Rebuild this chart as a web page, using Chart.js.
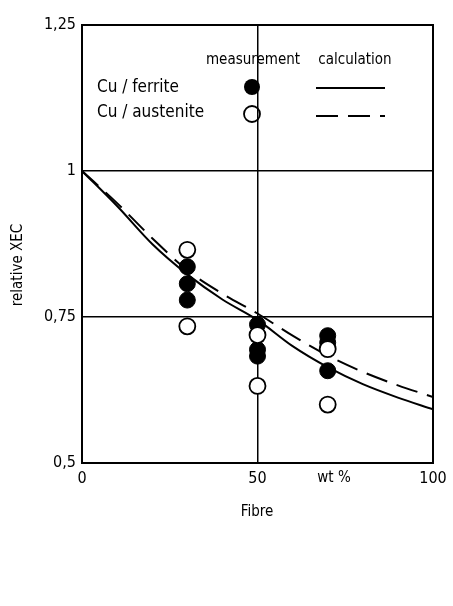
<!DOCTYPE html>
<html><head><meta charset="utf-8">
<script src="https://cdn.jsdelivr.net/npm/chart.js@4"></script>
<style>html,body{margin:0;background:#fff}#w{width:453px;height:606px}</style>
</head><body><div id="w"><canvas id="c"></canvas></div>
<script>
const calcX = [0,10,20,30,40,50,60,70,80,90,100];
const ferriteCalc = [1,0.94,0.875,0.823,0.78,0.745,0.70,0.664,0.635,0.612,0.592];
const austeniteCalc = [1,0.945,0.885,0.83,0.79,0.756,0.718,0.684,0.656,0.633,0.613];
const ferriteX = [30,30,30,50,50,50,70,70,70];
const ferriteY = [0.836,0.807,0.779,0.737,0.694,0.683,0.718,0.706,0.658];
const austeniteX = [30,30,50,50,70,70];
const austeniteY = [0.865,0.734,0.719,0.632,0.695,0.60];
const xTicks = [0,50,100];
const yTicks = [0.5,0.75,1,1.25];
const yLabels = ['0,5','0,75','1','1,25'];
const FONT = '"DejaVu Sans Condensed","DejaVu Sans",sans-serif';
const pts = (xs,ys)=>xs.map((x,i)=>({x,y:ys[i]}));

const deco = {id:'deco', afterDraw(ch){
  const c=ch.ctx, a=ch.chartArea;
  c.save();
  c.strokeStyle='#000'; c.lineWidth=2; c.strokeRect(a.left,a.top,a.right-a.left,a.bottom-a.top);
  c.fillStyle='#000'; c.font='15px '+FONT; c.textBaseline='middle';
  c.textAlign='center';
  c.fillText('measurement',253,60); c.fillText('calculation',355,60);
  c.fillText('wt %',334,478);
  c.fillText('Fibre',257,512);
  c.save(); c.translate(18,265); c.rotate(-Math.PI/2); c.fillText('relative XEC',0,0); c.restore();
  c.textAlign='left'; c.font='17px '+FONT;
  c.fillText('Cu / ferrite',97,88); c.fillText('Cu / austenite',97,113);
  c.beginPath(); c.arc(252,87,8,0,Math.PI*2); c.fill();
  c.beginPath(); c.arc(252,114,8,0,Math.PI*2); c.lineWidth=1.8; c.stroke();
  c.lineWidth=2;
  c.beginPath(); c.moveTo(316,88); c.lineTo(385,88); c.stroke();
  c.setLineDash([22,10]); c.beginPath(); c.moveTo(316,116); c.lineTo(385,116); c.stroke();
  c.restore();
}};

new Chart(document.getElementById('c'),{
  type:'scatter',
  data:{datasets:[
    {data:pts(calcX,ferriteCalc),showLine:true,borderColor:'#000',borderWidth:2,pointRadius:0,cubicInterpolationMode:'monotone',order:3},
    {data:pts(calcX,austeniteCalc),showLine:true,borderColor:'#000',borderWidth:2,borderDash:[22,10],pointRadius:0,cubicInterpolationMode:'monotone',order:3},
    {data:pts(ferriteX,ferriteY),backgroundColor:'#000',borderColor:'#000',pointRadius:8,order:2},
    {data:pts(austeniteX,austeniteY),backgroundColor:'#fff',borderColor:'#000',borderWidth:1.8,pointRadius:8,order:1}
  ]},
  options:{responsive:true,maintainAspectRatio:false,animation:false,
    layout:{padding:{left:0,right:20,top:25,bottom:0}},
    plugins:{legend:{display:false},tooltip:{enabled:false}},
    scales:{
      x:{type:'linear',min:0,max:100,
        afterBuildTicks:s=>{s.ticks=xTicks.map(v=>({value:v}));},
        afterFit:s=>{s.height=143;},
        grid:{color:ctx=>ctx.tick&&ctx.tick.value===50?'#000':'rgba(0,0,0,0)',lineWidth:1.5,drawTicks:false},
        border:{display:false},
        ticks:{color:'#000',font:{family:FONT,size:16},padding:6,maxRotation:0}},
      y:{type:'linear',min:0.5,max:1.25,
        afterBuildTicks:s=>{s.ticks=yTicks.map(v=>({value:v}));},
        afterFit:s=>{s.width=82;},
        grid:{color:ctx=>ctx.tick&&(ctx.tick.value===0.75||ctx.tick.value===1)?'#000':'rgba(0,0,0,0)',lineWidth:1.5,drawTicks:false},
        border:{display:false},
        ticks:{color:'#000',font:{family:FONT,size:16},padding:6,callback:v=>yLabels[yTicks.indexOf(v)]}}
    }},
  plugins:[deco]
});
</script></body></html>
